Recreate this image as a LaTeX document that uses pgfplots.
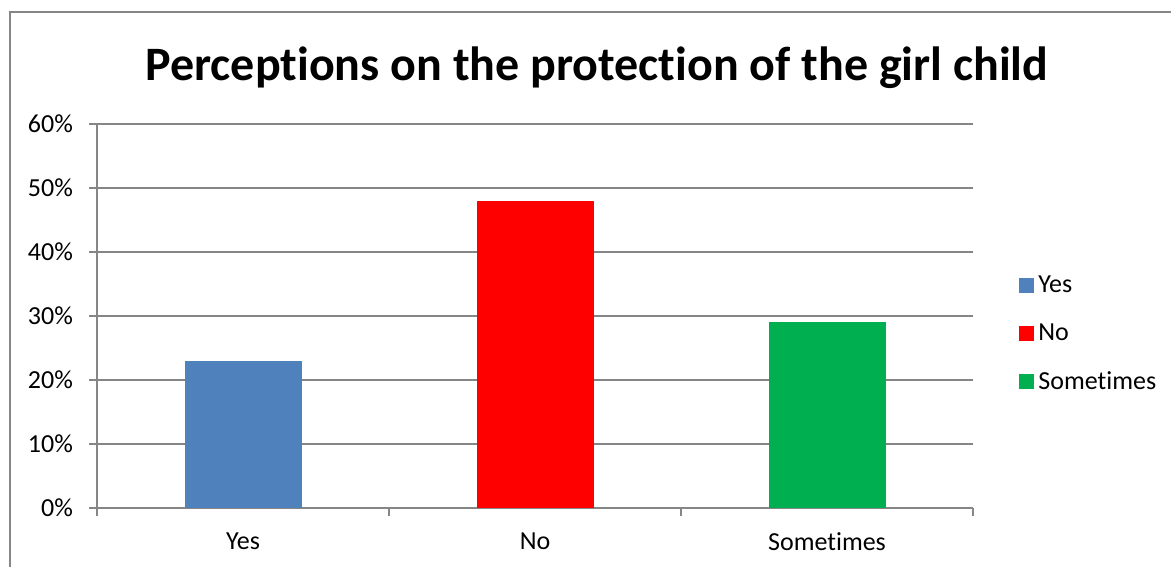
\documentclass[border=0pt]{standalone}
\usepackage{pgfplots}
\pgfplotsset{compat=1.18}
\usepackage{fontspec}
\setmainfont{Carlito}
\newcommand\TI{t\kern0pt i}
\definecolor{cyes}{RGB}{79,129,189}
\definecolor{cno}{RGB}{255,0,0}
\definecolor{csom}{RGB}{0,176,80}
\definecolor{axgray}{RGB}{134,134,134}
\begin{document}
\begin{tikzpicture}
\path[use as bounding box] (0,0) rectangle (585.5pt,283.5pt);
\draw[axgray, line width=0.6pt] (5pt,0) -- (5pt,277.5pt) -- (585.5pt,277.5pt);
\begin{axis}[
  at={(48.5pt,29.5pt)}, anchor=south west,
  scale only axis, width=438pt, height=192pt,
  ybar, bar width=58.5pt,
  xmin=-0.5, xmax=2.5, ymin=0, ymax=60,
  xtick={0,1,2}, xticklabels={Yes,No,{Some\TI mes}},
  minor xtick={-0.5,0.5,1.5,2.5},
  ytick={0,10,...,60},
  yticklabel={\pgfmathprintnumber{\tick}\%},
  /pgf/number format/assume math mode=true,
  tick align=outside,
  major tick length=4pt, minor tick length=4pt,
  major x tick style={draw=none},
  tick style={axgray, line width=0.6pt},
  axis x line*=bottom, axis y line*=left,
  axis line style={axgray, line width=0.6pt, -},
  ymajorgrids, grid style={axgray, line width=0.6pt},
  minor grid style={draw=none},
  ticklabel style={font=\fontsize{13}{15}\selectfont},
  xticklabel style={yshift=-5pt},
  yticklabel style={xshift=-4.5pt},
  legend style={at={(1.0,0.453)}, anchor=west, xshift=20pt, draw=none,
    font=\fontsize{13}{15}\selectfont, row sep=10pt,
    /tikz/every even column/.append style={column sep=2pt}},
  legend cell align=left,
  legend image code/.code={\fill[#1] (0pt,-3.75pt) rectangle (7.5pt,3.75pt);},
]
\addplot[fill=cyes, draw=none, bar shift=0pt] coordinates {(0,23)};
\addplot[fill=cno, draw=none, bar shift=0pt] coordinates {(1,48)};
\addplot[fill=csom, draw=none, bar shift=0pt] coordinates {(2,29)};
\legend{Yes,No,{Some\TI mes}}
\end{axis}
\node[font=\fontsize{24}{28}\selectfont\bfseries] at (298.5pt,249.5pt) {Percep\TI ons on the protec\TI on of the girl child};
\end{tikzpicture}
\end{document}
